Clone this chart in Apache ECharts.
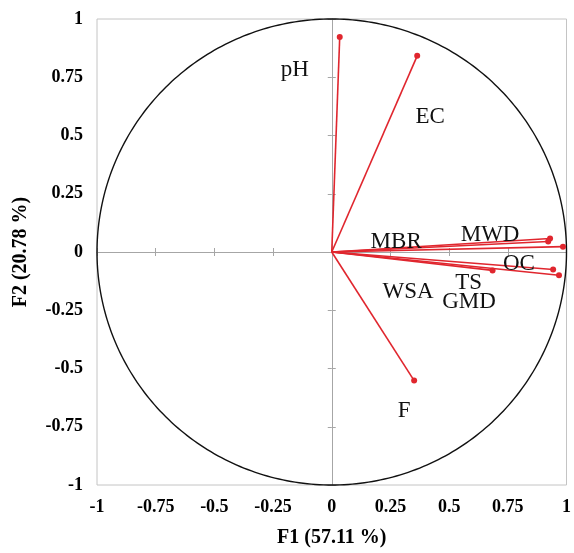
<!DOCTYPE html>
<html>
<head>
<meta charset="utf-8">
<script src="https://cdn.jsdelivr.net/npm/echarts@6/dist/echarts.min.js"></script>
<style>html,body{margin:0;padding:0;background:#fff}#c{width:574px;height:553px}</style>
</head>
<body>
<div id="c"></div>
<script>
// Variables and their loadings on F1 / F2
const variables = ['pH', 'EC', 'F', 'MWD', 'MBR', 'OC', 'TS', 'WSA', 'GMD'];
const f1 = [0.034, 0.364, 0.351, 0.930, 0.922, 0.985, 0.685, 0.943, 0.968];
const f2 = [0.923, 0.842, -0.552, 0.058, 0.045, 0.023, -0.079, -0.075, -0.100];
const axisTicks = [-1, -0.75, -0.5, -0.25, 0, 0.25, 0.5, 0.75, 1];
const xTitle = 'F1 (57.11 %)';
const yTitle = 'F2 (20.78 %)';

// label offsets (pixels) — styling only
const labelOffsets = {
  pH: [-45, 33], EC: [13, 61], F: [-10, 30], MWD: [-60, -4], MBR: [-152, 0],
  OC: [-44, 17], TS: [-24, 13], WSA: [-145, 22], GMD: [-90, 27]
};

const serif = '"Liberation Serif", "Times New Roman", serif';
const red = '#e0262e';
const gray = '#a6a6a6';

const chart = echarts.init(document.getElementById('c'));

function baseAxis() {
  return { type: 'value', min: axisTicks[0], max: axisTicks[axisTicks.length - 1], interval: 0.25, splitLine: { show: false } };
}
const labelStyle = { fontFamily: serif, fontWeight: 'bold', fontSize: 18, color: '#000' };

const xAxes = [
  Object.assign(baseAxis(), {
    position: 'bottom',
    axisLine: { show: false, onZero: false }, axisTick: { show: false },
    axisLabel: Object.assign({ margin: 13 }, labelStyle),
    name: xTitle, nameLocation: 'middle', nameGap: 43,
    nameTextStyle: { fontFamily: serif, fontWeight: 'bold', fontSize: 20, color: '#000' }
  }),
  Object.assign(baseAxis(), {
    position: 'bottom',
    axisLine: { show: true, onZero: true, lineStyle: { color: gray, width: 1 } },
    axisTick: { show: true, inside: false, length: 4, lineStyle: { color: gray } },
    axisLabel: { show: false }
  }),
  Object.assign(baseAxis(), {
    position: 'bottom',
    axisLine: { show: false, onZero: true },
    axisTick: { show: true, inside: true, length: 4, lineStyle: { color: gray } },
    axisLabel: { show: false }
  })
];
const yAxes = [
  Object.assign(baseAxis(), {
    position: 'left',
    axisLine: { show: false, onZero: false }, axisTick: { show: false },
    axisLabel: Object.assign({ margin: 14 }, labelStyle),
    name: yTitle, nameLocation: 'middle', nameGap: 66, nameRotate: 90,
    nameTextStyle: { fontFamily: serif, fontWeight: 'bold', fontSize: 20, color: '#000' }
  }),
  Object.assign(baseAxis(), {
    position: 'left',
    axisLine: { show: true, onZero: true, lineStyle: { color: gray, width: 1 } },
    axisTick: { show: true, inside: false, length: 4, lineStyle: { color: gray } },
    axisLabel: { show: false }
  }),
  Object.assign(baseAxis(), {
    position: 'left',
    axisLine: { show: false, onZero: true },
    axisTick: { show: true, inside: true, length: 4, lineStyle: { color: gray } },
    axisLabel: { show: false }
  })
];

const series = [{
  type: 'custom',
  silent: true,
  clip: false,
  data: [[0, 0]],
  renderItem: function (params, api) {
    const c = api.coord([0, 0]);
    const s = api.size([1, 1]);
    const pts = [];
    for (let i = 0; i <= 360; i++) {
      const a = i * Math.PI / 180;
      pts.push([c[0] + s[0] * Math.cos(a), c[1] + s[1] * Math.sin(a)]);
    }
    return { type: 'polyline', shape: { points: pts }, style: { stroke: '#111', lineWidth: 1.4, fill: null } };
  },
  z: 1
}];

variables.forEach(function (name, i) {
  const off = labelOffsets[name];
  series.push({
    type: 'line',
    name: name,
    xAxisIndex: 0, yAxisIndex: 0,
    symbol: 'circle', symbolSize: 6,
    itemStyle: { color: red },
    lineStyle: { color: red, width: 1.6 },
    z: 3,
    data: [
      { value: [0, 0], symbol: 'none', label: { show: false } },
      {
        value: [f1[i], f2[i]],
        label: {
          show: true, formatter: name, position: 'inside', offset: off,
          align: 'center', verticalAlign: 'middle',
          fontFamily: serif, fontSize: 23, color: '#111'
        }
      }
    ]
  });
});

chart.setOption({
  animation: false,
  backgroundColor: '#fff',
  grid: { left: 97, top: 19, right: 4, bottom: 65, show: true, borderColor: '#c4c4c4', borderWidth: 1, containLabel: false },
  xAxis: xAxes,
  yAxis: yAxes,
  series: series
});
</script>
</body>
</html>
